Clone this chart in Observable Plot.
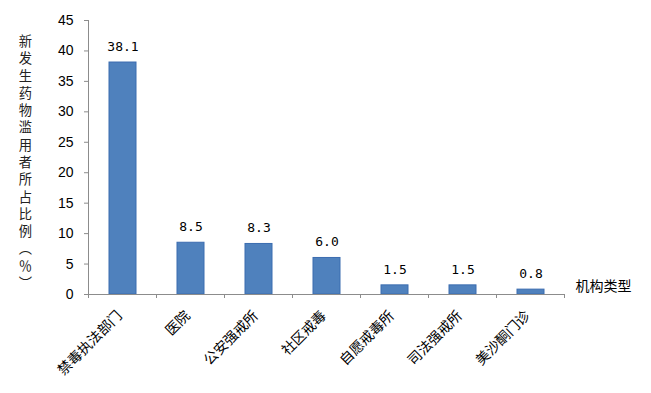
<!DOCTYPE html>
<html>
<head>
<meta charset="utf-8">
<script src="https://cdn.jsdelivr.net/npm/d3@7"></script>
<script src="https://cdn.jsdelivr.net/npm/@observablehq/plot@0.6"></script>
<style>
  html, body { margin: 0; padding: 0; background: #fff; }
</style>
</head>
<body>
<div id="chart"></div>
<script>
const categories = ["禁毒执法部门", "医院", "公安强戒所", "社区戒毒", "自愿戒毒所", "司法强戒所", "美沙酮门诊"];
const values = [38.1, 8.5, 8.3, 6.0, 1.5, 1.5, 0.8];
const yTicks = [0, 5, 10, 15, 20, 25, 30, 35, 40, 45];
const yLabel = "新发生药物滥用者所占比例︵％︶";
const xTitle = "机构类型";

const data = categories.map((c, i) => ({cat: c, val: values[i]}));
const grey = "#8c8c8c";

const plot = Plot.plot({
  width: 651,
  height: 393,
  marginLeft: 88,
  marginRight: 86,
  marginTop: 20,
  marginBottom: 99,
  style: {fontFamily: "'Liberation Sans', Arial, sans-serif", fontSize: "14px", background: "#fff", color: "#000"},
  x: {domain: categories, paddingInner: 0.6, paddingOuter: 0.3, axis: null},
  y: {domain: [0, 45], axis: null},
  marks: [
    Plot.barY(data, {x: "cat", y: "val", fill: "#4f81bd", stroke: "#3b6cb0", strokeWidth: 1}),
    Plot.ruleY([0], {stroke: grey}),
    Plot.axisY({ticks: yTicks, tickSize: 4, tickPadding: 11, label: null, fontSize: 14, tickFormat: d => String(d)}),
    Plot.text(data, {x: "cat", y: "val", text: d => d.val.toFixed(1), dy: -16, fontSize: 13,
      fontFamily: "'DejaVu Sans Mono', monospace", fill: "#000"}),
    Plot.text(data, {x: "cat", text: "cat", frameAnchor: "bottom", rotate: -45, textAnchor: "end",
      dy: 22, dx: 0, fontSize: 14, fontFamily: "'Noto Sans CJK SC', sans-serif", fill: "#000"}),
    Plot.text([yLabel], {text: d => d.split("").join("\n"), frameAnchor: "left", dx: -63, dy: 4,
      lineHeight: 1.3, fontSize: 13.3, textAnchor: "middle", fontFamily: "'Noto Sans CJK SC', sans-serif", fill: "#222"}),
    Plot.text([xTitle], {frameAnchor: "bottom-right", dx: 10, dy: -4, textAnchor: "start", fontSize: 14,
      fontFamily: "'Noto Sans CJK SC', sans-serif", fill: "#000"})
  ]
});

document.getElementById("chart").appendChild(plot);
const svg = d3.select(plot);
svg.selectAll('[aria-label="y-axis tick"]').attr("stroke", grey);

// axis line and category boundary ticks from the library's scales
const xs = plot.scale("x");
const ys = plot.scale("y");
const step = xs.step, bw = xs.bandwidth;
const y0 = ys.apply(0), yTop = ys.apply(45);
const left = xs.apply(categories[0]) - (step - bw) / 2;
svg.append("line").attr("x1", left).attr("x2", left).attr("y1", yTop).attr("y2", y0)
  .attr("stroke", grey);
const bounds = categories.map(c => xs.apply(c) - (step - bw) / 2);
bounds.push(bounds[bounds.length - 1] + step);
svg.append("g").selectAll("line").data(bounds).join("line")
  .attr("x1", d => d).attr("x2", d => d).attr("y1", y0).attr("y2", y0 + 4)
  .attr("stroke", grey);
</script>
</body>
</html>
